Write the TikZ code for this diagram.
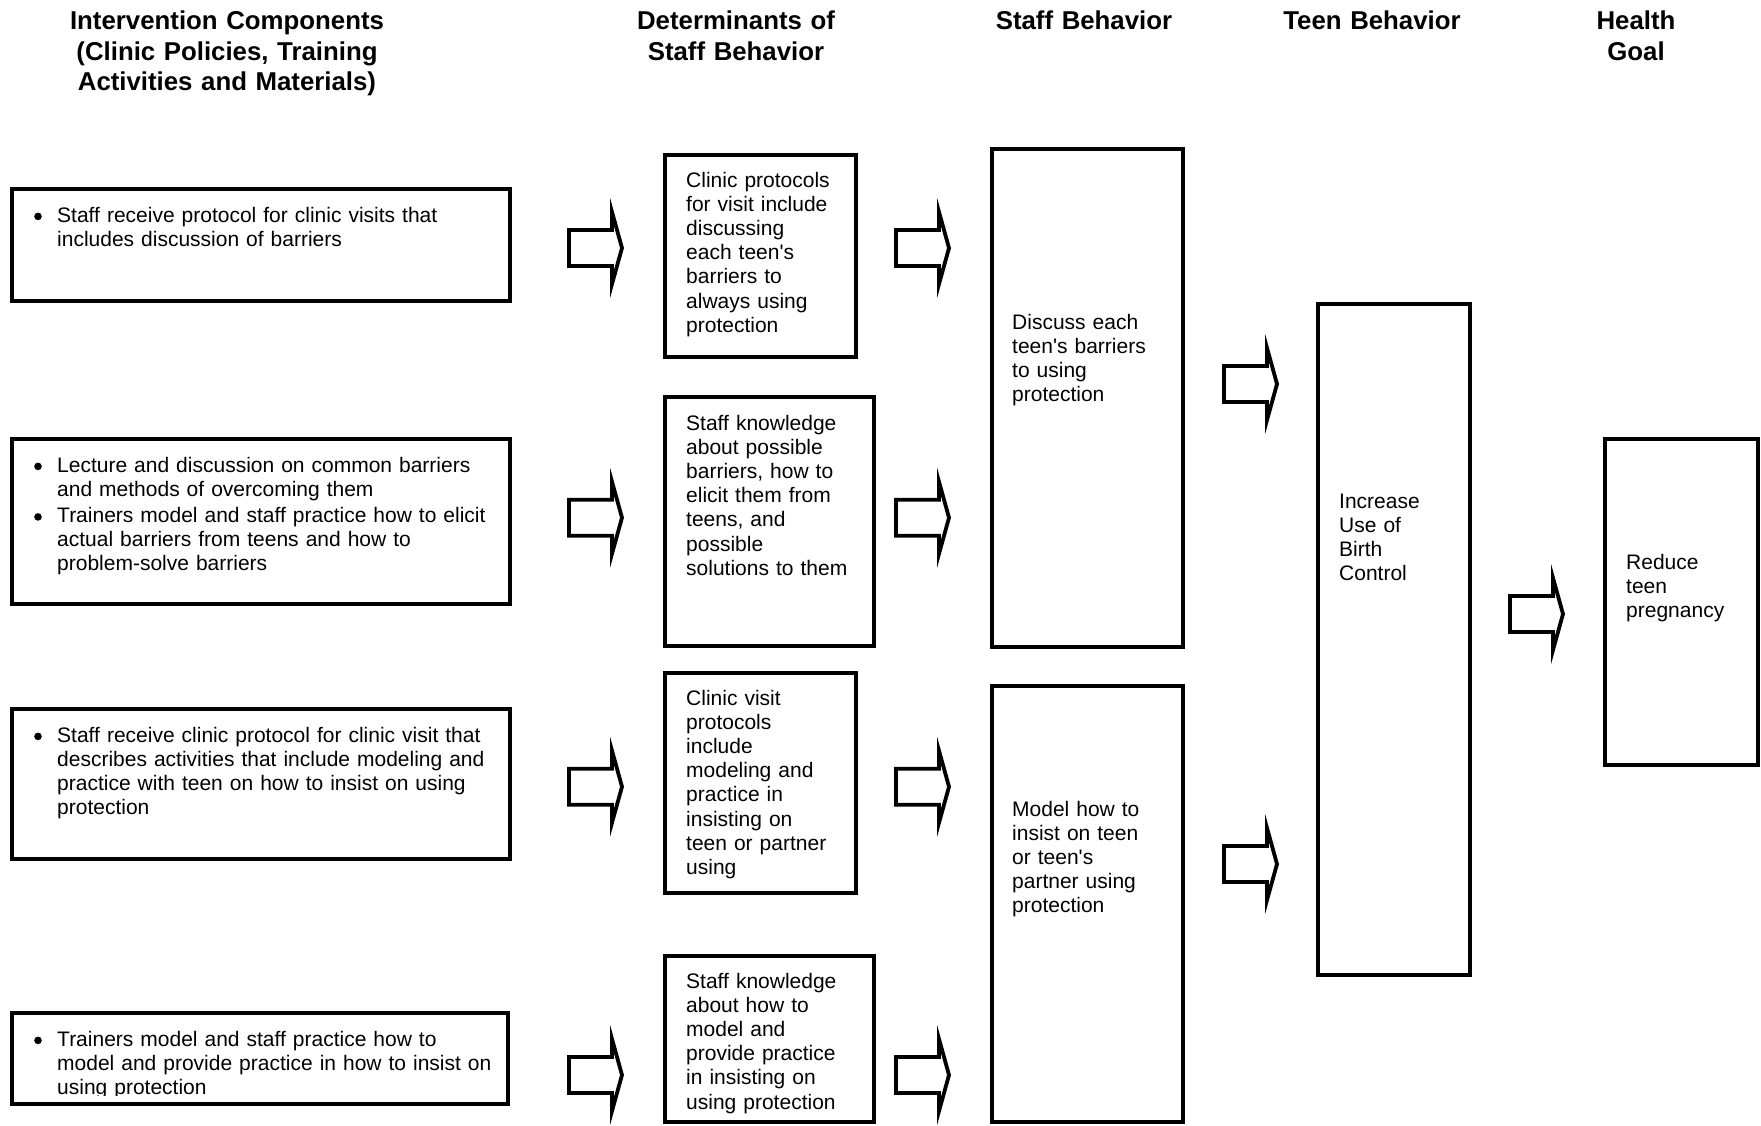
\documentclass[tikz,border=0pt]{standalone}
\usepackage{fontspec}
\setmainfont{Liberation Sans}[Ligatures=TeXOff]
\begin{document}
\begin{tikzpicture}[x=1pt,y=-1pt,
  box/.style={draw, line width=3.7pt, anchor=north west, inner sep=0pt, outer sep=0pt},
  body/.style={font=\fontsize{21}{24.2}\selectfont, inner sep=0pt, anchor=base west,
    align=left, text width=#1},
  body/.default=470pt,
  bulletdot/.style={circle, fill=black, inner sep=0pt, minimum size=7.6pt},
  head/.style={font=\fontsize{25.8}{30.6}\selectfont\bfseries, inner sep=0pt,
    anchor=base, align=center, text width=420pt},
  arrowline/.style={draw, line width=3.8pt, line join=miter, fill=white},
  blockarrow/.pic={\path[arrowline] (0,-18) -- (43,-18) -- (43,-36) -- (53,0)
    -- (43,36) -- (43,18) -- (0,18) -- cycle;}
]
\fill[white] (0,0) rectangle (1761,1125);
\useasboundingbox (0,0) rectangle (1761,1125);

% column headings
\node[head] (h1) at (227,29.5) {Intervention Components\\(Clinic Policies, Training\\Activities and Materials)};
\node[head] (h2) at (736,29.5) {Determinants of\\Staff Behavior};
\node[head] (h3) at (1084,29.5) {Staff Behavior};
\node[head] (h4) at (1372,29.5) {Teen Behavior};
\node[head] (h5) at (1636,29.5) {Health\\Goal};

% intervention components
\node[box, minimum width=497.4pt, minimum height=111.4pt] (L1) at (12.3,189.3) {};
\node[box, minimum width=497.4pt, minimum height=164.4pt] (L2) at (12.3,439.3) {};
\node[box, minimum width=497.4pt, minimum height=149.4pt] (L3) at (12.3,709.3) {};
\node[box, minimum width=495.4pt, minimum height=90.4pt] (L4) at (12.3,1013.3) {};

\node[bulletdot] (b1) at (38,216.4) {};
\node[body] (t1) at (57,222) {Staff receive protocol for clinic visits that\\includes discussion of barriers};
\node[bulletdot] (b2) at (38,466.4) {};
\node[body] (t2) at (57,472) {Lecture and discussion on common barriers\\and methods of overcoming them};
\node[bulletdot] (b3) at (38,516.9) {};
\node[body] (t3) at (57,522.5) {Trainers model and staff practice how to elicit\\actual barriers from teens and how to\\problem-solve barriers};
\node[bulletdot] (b4) at (38,736.4) {};
\node[body] (t4) at (57,742) {Staff receive clinic protocol for clinic visit that\\describes activities that include modeling and\\practice with teen on how to insist on using\\protection};
\node[bulletdot] (b5) at (38,1040.4) {};
\begin{scope}
  \clip (15,1016) rectangle (505,1095.5);
  \node[body] (t5) at (57,1046) {Trainers model and staff practice how to\\model and provide practice in how to insist on\\using protection};
\end{scope}

% determinants of staff behavior
\node[box, minimum width=190.4pt, minimum height=202.4pt] (D1) at (665.3,154.8) {};
\node[box, minimum width=208.4pt, minimum height=248.4pt] (D2) at (665.3,397.3) {};
\node[box, minimum width=190.4pt, minimum height=219.4pt] (D3) at (665.3,673.3) {};
\node[box, minimum width=208.4pt, minimum height=165.4pt] (D4) at (665.3,956.3) {};
\node[body=185pt] (d1) at (686,187) {Clinic protocols\\for visit include\\discussing\\each teen's\\barriers to\\always using\\protection};
\node[body=185pt] (d2) at (686,430) {Staff knowledge\\about possible\\barriers, how to\\elicit them from\\teens, and\\possible\\solutions to them};
\node[body=185pt] (d3) at (686,705) {Clinic visit\\protocols\\include\\modeling and\\practice in\\insisting on\\teen or partner\\using};
\node[body=185pt] (d4) at (686,988) {Staff knowledge\\about how to\\model and\\provide practice\\in insisting on\\using protection};

% staff behavior
\node[box, minimum width=190.4pt, minimum height=497.4pt] (S1) at (992.3,149.3) {};
\node[box, minimum width=190.4pt, minimum height=435.4pt] (S2) at (992.3,686.3) {};
\node[body=170pt] (s1) at (1012,329) {Discuss each\\teen's barriers\\to using\\protection};
\node[body=170pt] (s2) at (1012,816) {Model how to\\insist on teen\\or teen's\\partner using\\protection};

% teen behavior
\node[box, minimum width=151.4pt, minimum height=670.4pt] (T) at (1318.3,304.3) {};
\node[body=130pt] (tt) at (1339,508) {Increase\\Use of\\Birth\\Control};

% health goal
\node[box, minimum width=152.4pt, minimum height=325.4pt] (H) at (1605.3,439.3) {};
\node[body=130pt] (hh) at (1626,569) {Reduce\\teen\\pregnancy};

% block arrows between the columns
\pic (a1) at (569,248) {blockarrow};
\pic (a2) at (569,517.7) {blockarrow};
\pic (a3) at (569,786.7) {blockarrow};
\pic (a4) at (569,1075) {blockarrow};
\pic (a5) at (896,248) {blockarrow};
\pic (a6) at (896,517.7) {blockarrow};
\pic (a7) at (896,786.7) {blockarrow};
\pic (a8) at (896,1075) {blockarrow};
\pic (a9) at (1224,384) {blockarrow};
\pic (a10) at (1224,864) {blockarrow};
\pic (a11) at (1510,614) {blockarrow};
\end{tikzpicture}
\end{document}
